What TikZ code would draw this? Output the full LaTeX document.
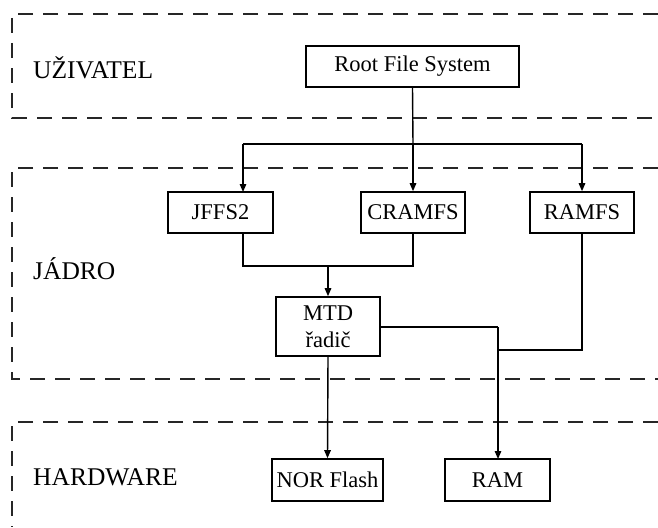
\documentclass[tikz,border=0pt]{standalone}
\usepackage{fontspec}
\setmainfont{Liberation Serif}
\usetikzlibrary{arrows.meta}
\tikzset{
  layer/.style={line width=1.8pt, dash pattern=on 15pt off 10pt, black!85},
  box/.style={draw, line width=1.6pt, inner sep=0pt, align=center,
              font=\fontsize{22.5}{27}\selectfont},
  lbl/.style={anchor=base west, inner sep=0pt, font=\fontsize{25.5}{30}\selectfont},
  wire/.style={line width=1.4pt},
  arr/.style={line width=1.4pt, -{Triangle[length=8pt,width=6.5pt]}}
}
\begin{document}
\begin{tikzpicture}[x=1pt,y=-1pt]
\useasboundingbox (0,0) rectangle (658,527);
% layers
\draw[layer] (658,14) -- (12,14) -- (12,118) -- (658,118);
\draw[layer] (658,168) -- (12,168) -- (12,379) -- (658,379);
\draw[layer] (658,422) -- (12,422) -- (12,527);
% labels
\node[lbl] (uz) at (33,78) {UŽIVATEL};
\node[lbl] (ja) at (33,279) {JÁDRO};
\node[lbl] (hw) at (33,485) {HARDWARE};
% boxes
\node[box, minimum width=213pt, minimum height=41pt] (rfs) at (412.5,66.5) {Root File System};
\node[box, minimum width=105pt, minimum height=41pt] (jffs) at (220.5,212.5) {JFFS2};
\node[box, minimum width=104pt, minimum height=41pt] (cram) at (413,212.5) {CRAMFS};
\node[box, minimum width=104pt, minimum height=41pt] (ramfs) at (582,212.5) {RAMFS};
\node[box, minimum width=104pt, minimum height=59pt] (mtd) at (328,326.5) {MTD\\řadič};
\node[box, minimum width=111pt, minimum height=42pt] (nor) at (327.5,480) {NOR Flash};
\node[box, minimum width=105pt, minimum height=42pt] (ram) at (497.5,480) {RAM};
% junction coordinates
\coordinate (bus) at (413,144);
\coordinate (busl) at (243,144);
\coordinate (busr) at (582,144);
\coordinate (jin) at (243,192);
\coordinate (jout) at (243,233);
\coordinate (jbot) at (243,266);
\coordinate (cbot) at (413,266);
\coordinate (mjoin) at (328,266);
\coordinate (mr) at (498,327);
\coordinate (rj) at (498,350);
\coordinate (rc) at (582,350);
\coordinate (ramtop) at (498,459);
% connectors
\draw[wire] (rfs.south) -- (bus);
\draw[wire] (busl) -- (busr);
\draw[arr] (busl) -- (jin);
\draw[arr] (bus) -- (cram.north);
\draw[arr] (busr) -- (ramfs.north);
\draw[wire] (jout) -- (jbot) -- (cbot) -- (cram.south);
\draw[arr] (mjoin) -- (mtd.north);
\draw[wire] (mtd.east |- mr) -- (mr);
\draw[arr] (mr) -- (ramtop);
\draw[wire] (ramfs.south) -- (rc) -- (rj);
\draw[arr] (mtd.south) -- (nor.north);
\end{tikzpicture}
\end{document}
